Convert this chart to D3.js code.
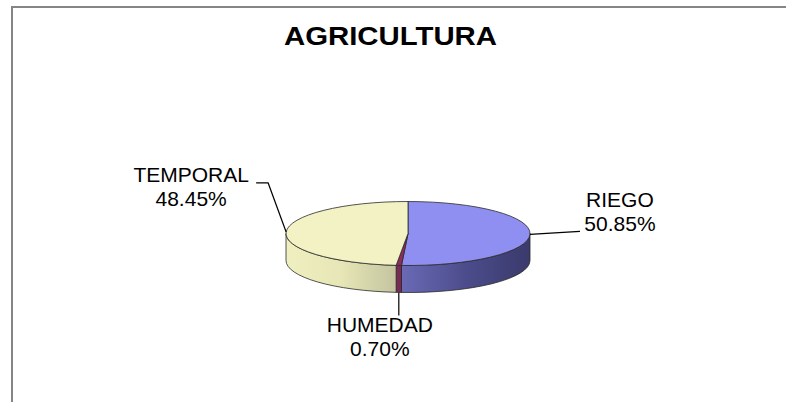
<!DOCTYPE html>
<html>
<head>
<meta charset="utf-8">
<script src="https://cdn.jsdelivr.net/npm/d3@7"></script>
<style>
  body { margin: 0; background: #fff; }
  text { font-family: "Liberation Sans", Arial, sans-serif; fill: #000; }
</style>
</head>
<body>
<div id="chart"></div>
<script>
// Data
var categories = ["RIEGO", "HUMEDAD", "TEMPORAL"];
var values = [50.85, 0.70, 48.45];
var pctLabels = ["50.85%", "0.70%", "48.45%"];
var title = "AGRICULTURA";

// Colours (top face, side gradient stops)
var topColors = ["#8f8ff2", "#8c2d5e", "#f2f2c4"];
var sideStops = [
    ["#6a6ab6", "#4c4c8c", "#3a3a6c"],
    ["#7a2a57", "#7a2a57", "#7a2a57"],
    ["#efefbf", "#e6e6b6", "#c4c4a0"]
];

// Label placement relative to leader anchor
var labelLayout = [
    {leader: [[50, -3]], tx: 90, ty: -27},
    {leader: [[0, 23]], tx: -19, ty: 40},
    {leader: [[-18, -49], [-30, -49]], tx: -95, ty: -50}
];

var width = 786, height = 402;
var cx = 408, cy = 233.5, rx = 122, ry = 32, depth = 27;

var svg = d3.select("#chart").append("svg")
    .attr("width", width)
    .attr("height", height);

// Frame
svg.append("rect")
    .attr("x", 12).attr("y", 7)
    .attr("width", 800).attr("height", 420)
    .attr("fill", "none")
    .attr("stroke", "#858585")
    .attr("stroke-width", 2);

// Title
svg.append("text")
    .attr("x", 390.5).attr("y", 45)
    .attr("text-anchor", "middle")
    .attr("font-size", 26)
    .attr("font-weight", "bold")
    .attr("textLength", 213)
    .attr("lengthAdjust", "spacingAndGlyphs")
    .text(title);

var pie = d3.pie().sort(null).value(function(d) { return d; });
var arcs = pie(values);

function pt(a, y0) {
    return [cx + rx * Math.sin(a), y0 - ry * Math.cos(a)];
}

function topPath(d) {
    var p0 = pt(d.startAngle, cy), p1 = pt(d.endAngle, cy);
    var large = (d.endAngle - d.startAngle) > Math.PI ? 1 : 0;
    return "M" + cx + "," + cy + "L" + p0 + "A" + rx + "," + ry + " 0 " + large + " 1 " + p1 + "Z";
}

function sidePath(a0, a1) {
    var p0 = pt(a0, cy), p1 = pt(a1, cy), q1 = pt(a1, cy + depth), q0 = pt(a0, cy + depth);
    return "M" + p0 + "A" + rx + "," + ry + " 0 0 1 " + p1 +
        "L" + q1 + "A" + rx + "," + ry + " 0 0 0 " + q0 + "Z";
}

var defs = svg.append("defs");

// Sides (only the front half is visible)
arcs.forEach(function(d, i) {
    var a0 = Math.max(d.startAngle, Math.PI / 2);
    var a1 = Math.min(d.endAngle, 3 * Math.PI / 2);
    if (a1 <= a0) return;
    var x0 = pt(a0, cy)[0], x1 = pt(a1, cy)[0];
    var g = defs.append("linearGradient")
        .attr("id", "side" + i)
        .attr("gradientUnits", "userSpaceOnUse")
        .attr("x1", Math.min(x0, x1)).attr("x2", Math.max(x0, x1))
        .attr("y1", 0).attr("y2", 0);
    sideStops[i].forEach(function(c, k) {
        g.append("stop").attr("offset", k / 2).attr("stop-color", c);
    });
    svg.append("path")
        .attr("d", sidePath(a0, a1))
        .attr("fill", "url(#side" + i + ")")
        .attr("stroke", "#2a2a2a")
        .attr("stroke-width", 0.8)
        .attr("stroke-linejoin", "round");
});

// Top faces
svg.selectAll(".slice")
    .data(arcs)
    .enter().append("path")
    .attr("class", "slice")
    .attr("d", topPath)
    .attr("fill", function(d, i) { return topColors[i]; })
    .attr("stroke", "#2a2a2a")
    .attr("stroke-width", 0.8)
    .attr("stroke-linejoin", "round");

// Leader lines and labels
arcs.forEach(function(d, i) {
    var mid = (d.startAngle + d.endAngle) / 2;
    var front = Math.cos(mid) < -0.9;
    var a = pt(mid, front ? cy + depth : cy);
    var lay = labelLayout[i];
    var line = [a].concat(lay.leader.map(function(o) { return [a[0] + o[0], a[1] + o[1]]; }));
    svg.append("path")
        .attr("d", d3.line()(line))
        .attr("fill", "none")
        .attr("stroke", "#000")
        .attr("stroke-width", 1.2);
    var lbl = svg.append("text")
        .attr("text-anchor", "middle")
        .attr("font-size", 21);
    lbl.append("tspan")
        .attr("x", a[0] + lay.tx).attr("y", a[1] + lay.ty)
        .text(categories[i]);
    lbl.append("tspan")
        .attr("x", a[0] + lay.tx).attr("y", a[1] + lay.ty + 24)
        .text(pctLabels[i]);
});
</script>
</body>
</html>
